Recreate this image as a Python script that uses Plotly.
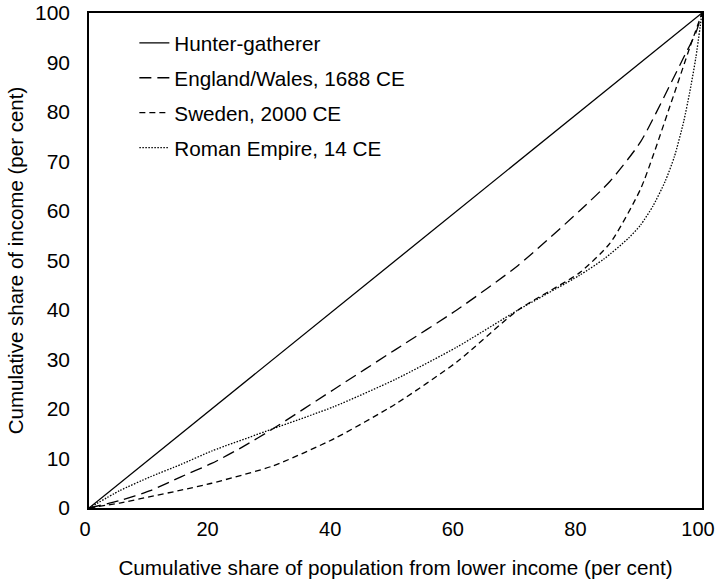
import plotly.graph_objects as go

# Data (cumulative % of population vs cumulative % of income)
hg_x = [0, 100]
hg_y = [0, 100]

eng_x = [0, 5, 10, 15, 20, 25, 30, 40, 50, 60, 70, 80, 85, 90, 95, 97, 99, 100]
eng_y = [0, 1.5, 3.5, 6.3, 9, 12.3, 16, 24, 32, 40, 49, 60, 66, 74, 86, 91, 96, 100]

swe_x = [0, 5, 10, 15, 20, 30, 40, 50, 60, 70, 80, 85, 90, 95, 98, 100]
swe_y = [0, 1, 2.3, 3.6, 5, 8.5, 14, 21, 29.5, 40, 47.5, 53.5, 64.5, 82, 93, 100]

rom_x = [0, 5, 10, 15, 20, 30, 40, 50, 60, 70, 80, 84, 88, 90, 92, 94, 95.5, 97, 98, 99, 100]
rom_y = [0, 3.5, 6.3, 8.8, 11.5, 16, 20.5, 26, 32.5, 40, 47, 50.3, 54.5, 57.2, 61, 66, 71, 78, 84, 91, 100]

names = ["Hunter-gatherer", "England/Wales, 1688 CE", "Sweden, 2000 CE", "Roman Empire, 14 CE"]

FONT = "Liberation Sans, Arial, Helvetica, sans-serif"

fig = go.Figure()
series = [(hg_x, hg_y, "solid"), (eng_x, eng_y, "12px,6px"),
          (swe_x, swe_y, "6px,4px"), (rom_x, rom_y, "1.5px,1.5px")]
for i, (xs, ys, dash) in enumerate(series):
    fig.add_trace(go.Scatter(
        x=xs, y=ys, mode="lines", name=names[i], legendgroup=f"g{i}",
        line=dict(color="black", width=1.3, dash=dash, shape="spline", smoothing=0.6 if i else 0),
    ))

fig.update_layout(
    width=716, height=579,
    margin=dict(l=89, r=14, t=13, b=71, autoexpand=False),
    paper_bgcolor="white", plot_bgcolor="white",
    font=dict(family=FONT, size=20, color="black"),
    showlegend=True,
    legend=dict(x=0.074, y=0.98, xanchor="left", yanchor="top",
                bgcolor="rgba(0,0,0,0)", borderwidth=0,
                font=dict(family=FONT, size=20.7, color="black"),
                tracegroupgap=5),
)
fig.update_xaxes(
    range=[-0.001, 100.001], tickvals=[0, 20, 40, 60, 80, 100], showgrid=False, zeroline=False,
    showline=True, linecolor="black", linewidth=1.5, mirror=True, ticks="",
    tickfont=dict(size=20), ticklabelstandoff=2, ticklabelshift=-4,
    ticklabeloverflow="allow", automargin=False,
    title=dict(text="Cumulative share of population from lower income (per cent)",
               font=dict(size=20.7), standoff=23),
)
fig.update_yaxes(
    range=[0, 100], tickvals=list(range(0, 101, 10)), showgrid=False, zeroline=False,
    showline=True, linecolor="black", linewidth=1.5, mirror=True, ticks="",
    tickfont=dict(size=21), ticklabelstandoff=13, ticklabeloverflow="allow", automargin=False,
    title=dict(text="Cumulative share of income (per cent)", font=dict(size=20.5), standoff=6),
)

fig.write_html("out.html")
